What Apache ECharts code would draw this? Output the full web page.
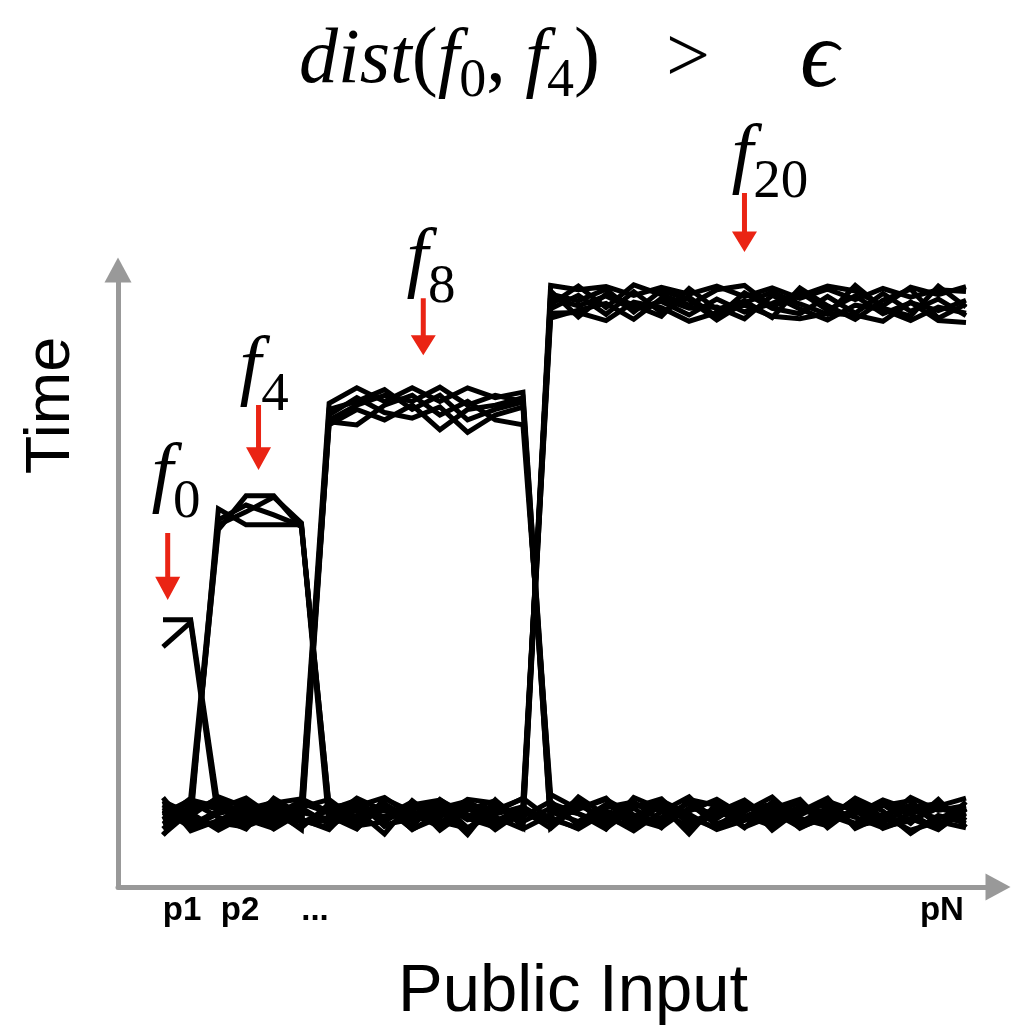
<!DOCTYPE html>
<html><head><meta charset="utf-8">
<script src="https://cdn.jsdelivr.net/npm/echarts@6/dist/echarts.min.js"></script>
<style>html,body{margin:0;padding:0;background:#fff}#c{width:1012px;height:1029px}</style>
</head><body><div id="c"></div>
<script>
// public inputs p1..pN (N = 30)
const inputs = [1,2,3,4,5,6,7,8,9,10,11,12,13,14,15,16,17,18,19,20,21,22,23,24,25,26,27,28,29,30];
const tickLabels = ['p1','p2','...','pN'];

// timing traces, grouped by the function that is elevated
const f0Lines = [
  [43.3,43.3,12.8,11.2,13.9,10.4,12.5,14.1,9.8,11.7,13.6,10.9,12.2,14.4,11.0,9.6,12.9,13.8,10.7,12.3,14.2,11.5,9.9,13.1,12.0,10.3,13.7,11.8,9.4,12.6],
  [38.9,42.9,10.6,13.4,9.7,12.8,10.2,11.6,13.5,9.3,11.9,14.0,10.1,12.4,9.5,13.3,11.1,9.8,13.6,10.5,11.4,13.0,12.2,9.7,11.3,14.3,10.4,12.9,13.5,10.8]
];
const f4Lines = [
  [12.1,10.5,61.3,58.7,58.7,58.7,9.9,12.7,11.4,13.8,9.2,12.5,14.0,10.6,12.8,11.9,10.2,13.5,12.4,9.6,12.1,14.1,10.9,11.6,13.9,12.3,9.8,10.7,12.8,11.5],
  [9.4,13.2,57.9,63.4,63.4,58.3,13.1,10.3,12.6,9.9,14.2,11.1,9.7,13.0,10.4,12.7,14.4,9.9,11.3,13.6,10.0,12.6,13.4,9.5,11.7,10.1,13.2,14.0,9.9,13.8],
  [13.9,11.8,58.7,60.8,63.2,59.0,11.5,9.4,14.3,12.2,10.6,9.5,12.7,11.4,13.9,10.0,12.3,11.2,14.0,11.8,9.3,10.8,12.7,14.2,9.6,13.0,11.5,9.2,10.6,9.6],
  [11.0,14.4,59.5,61.9,60.3,58.5,12.9,13.6,10.1,11.0,12.8,13.9,11.3,9.4,11.7,14.1,9.5,12.8,9.6,14.2,13.2,9.7,11.5,12.9,10.5,11.8,14.1,12.5,11.1,12.9]
];
const f8Lines = [
  [10.2,12.9,13.1,9.8,11.6,14.0,78.4,80.9,78.7,80.9,78.7,80.9,79.3,80.2,12.2,10.6,13.4,11.0,9.7,12.8,11.9,13.7,10.4,12.2,14.4,9.5,11.6,13.3,10.2,11.9],
  [14.5,9.1,10.8,12.6,13.7,10.5,75.7,78.1,79.7,78.7,81.0,78.1,79.7,78.7,9.6,13.8,10.5,12.9,14.3,10.1,12.7,9.6,13.8,11.1,9.9,12.7,13.4,10.3,14.2,9.7],
  [12.7,11.4,9.6,14.1,10.2,12.3,74.9,77.4,75.7,78.1,74.1,77.4,78.1,79.3,13.6,11.9,9.4,14.5,12.6,11.3,9.5,12.2,14.6,10.5,12.8,11.3,9.6,12.0,13.1,14.4],
  [8.5,12.3,14.3,11.0,9.5,13.3,76.5,79.3,76.9,76.0,77.8,73.7,76.5,77.8,11.3,9.4,12.1,10.4,13.2,8.6,13.6,10.9,12.0,13.7,10.9,14.4,12.3,8.7,11.6,10.3],
  [13.3,10.0,12.4,13.2,12.5,9.3,75.4,74.9,78.1,79.7,76.5,78.7,75.7,74.9,15.0,12.6,14.2,11.7,10.4,13.9,11.1,14.0,9.2,12.6,13.3,9.9,10.8,14.5,12.4,13.2],
  [11.5,13.8,11.3,9.4,14.4,11.6,77.4,78.7,80.6,77.4,79.7,75.7,77.4,78.6,9.9,14.6,11.6,9.1,12.2,14.6,10.3,11.4,13.2,9.8,12.1,13.6,9.5,11.1,9.3,12.7]
];
const f20Lines = [
  [12.4,9.7,11.9,13.0,10.7,13.6,12.0,9.5,13.5,10.9,12.1,13.1,10.0,11.5,97.5,96.8,97.3,95.9,97.2,96.1,97.4,95.7,97.1,95.4,96.9,95.2,97.0,95.6,96.8,96.5],
  [10.8,12.6,13.6,10.1,12.9,11.0,9.3,13.9,11.0,12.6,13.7,9.6,11.8,13.0,95.5,94.2,95.8,93.6,94.9,92.7,95.3,93.2,94.6,96.4,93.5,95.8,92.9,94.7,93.4,95.1],
  [14.0,11.1,9.9,12.3,9.8,12.9,14.2,10.8,12.9,9.4,11.3,14.2,13.6,10.1,93.7,95.9,92.8,96.5,93.1,95.6,92.4,96.3,93.8,92.9,95.7,93.0,96.2,93.3,95.3,92.6],
  [8.4,13.5,12.7,14.4,11.3,10.6,10.8,12.4,8.6,14.0,10.5,12.9,9.3,12.4,92.2,93.5,94.6,92.0,95.4,93.8,94.0,92.1,95.9,93.7,91.9,94.3,93.6,91.8,94.0,93.0],
  [12.9,10.2,10.4,9.7,13.6,14.3,12.2,11.1,13.4,10.7,12.9,8.5,14.1,9.7,96.6,92.4,96.1,94.3,92.5,97.0,93.6,95.0,92.3,97.1,94.2,92.0,95.1,96.9,92.2,94.5],
  [11.9,14.1,13.0,10.9,12.0,9.6,13.5,9.9,10.6,13.3,14.1,11.7,10.7,12.8,94.4,97.4,93.9,97.6,96.0,94.3,96.8,97.5,94.1,95.8,97.4,96.6,94.2,97.2,96.0,97.3],
  [10.3,11.5,14.6,12.9,9.4,12.1,11.0,14.4,12.3,11.8,9.8,13.4,12.5,14.3,93.0,93.1,91.8,94.8,93.9,91.7,93.1,94.3,92.5,92.1,93.0,92.7,91.7,94.8,91.8,91.5],
  [13.6,12.0,9.2,11.6,14.0,10.8,9.6,13.1,14.5,11.5,12.4,9.2,13.2,11.2,96.1,95.0,96.9,93.2,96.7,95.2,91.9,94.7,96.4,94.5,92.8,97.5,93.8,92.5,97.4,94.0]
];

// annotations: function index, input position, arrow tip (time), label anchor
const annoNames  = ['0','4','8','20'];
const annoX      = [1.17, 4.45, 10.40, 22.00];
const annoTipY   = [46.5, 67.6, 86.2, 102.9];
const annoLabelX = [1.47, 4.65, 10.68, 22.92];
const annoLabelY = [66.5, 83.8, 101.3, 118.3];
const annoLen    = [67, 65, 57, 59];

// tick label positions along the input axis
const tickPos = [1.686, 3.781, 6.49, 29.13];

const SERIF = '"Liberation Serif","DejaVu Serif",serif';
const SANS = '"Liberation Sans",Arial,sans-serif';

const series = [];
[['f0', f0Lines], ['f4', f4Lines], ['f8', f8Lines], ['f20', f20Lines]].forEach(([g, lines]) => {
  lines.forEach((vals, k) => {
    series.push({
      name: g + '-' + (k + 1), type: 'line', symbol: 'none', silent: true,
      data: inputs.map((x, i) => [x, vals[i]]),
      lineStyle: { color: '#000', width: 5, join: 'miter', miterLimit: 10 },
      z: 2
    });
  });
});

const arrowPath = 'path://M10,0 L15,0 L15,43 L25,43 L12.5,66 L0,43 L10,43 Z';
series.push({
  name: 'arrows', type: 'scatter', clip: false, silent: true, z: 5,
  data: annoNames.map((n, i) => ({ value: [annoX[i], annoTipY[i]], symbolSize: [25, annoLen[i]] })),
  symbol: arrowPath, symbolOffset: [0, '-50%'],
  itemStyle: { color: '#EA2414', opacity: 1 }
});
series.push({
  name: 'labels', type: 'scatter', clip: false, silent: true, z: 5,
  symbolSize: 0,
  data: annoNames.map((n, i) => ({ value: [annoLabelX[i], annoLabelY[i]], name: n })),
  label: {
    show: true, position: 'inside', color: '#000', textBorderWidth: 0, opacity: 1,
    formatter: p => '{f|f}{s|' + p.name + '}',
    rich: {
      f: { fontFamily: SERIF, fontStyle: 'italic', fontSize: 78, color: '#000', lineHeight: 106, textBorderWidth: 0 },
      s: { fontFamily: SERIF, fontSize: 55, color: '#000', verticalAlign: 'bottom', lineHeight: 55, textBorderWidth: 0 }
    }
  }
});

const option = {
  animation: false,
  backgroundColor: '#fff',
  title: {
    left: 294, top: 8,
    text: '{i|dist}{r|(}{i|f}{s|0}{r|, }{i|f}{s|4}{r|)}{g|>}{e|ϵ}',
    textStyle: {
      fontWeight: 'normal',
      rich: {
        i: { fontFamily: SERIF, fontStyle: 'italic', fontWeight: 'normal', fontSize: 78, color: '#000', lineHeight: 96 },
        r: { fontFamily: SERIF, fontWeight: 'normal', fontSize: 78, color: '#000', lineHeight: 96 },
        g: { fontFamily: SERIF, fontWeight: 'normal', fontSize: 78, color: '#000', lineHeight: 96, padding: [0, 90, 0, 66] },
        s: { fontFamily: SERIF, fontWeight: 'normal', fontSize: 54, color: '#000', verticalAlign: 'bottom', lineHeight: 54 },
        e: { fontFamily: SERIF, fontStyle: 'italic', fontWeight: 'normal', fontSize: 96, color: '#000', lineHeight: 96 }
      }
    }
  },
  grid: { left: 118, right: 14, top: 270, bottom: 142, containLabel: false, outerBoundsMode: 'none' },
  xAxis: {
    type: 'value', min: -0.625, max: 31.156,
    splitLine: { show: false }, axisTick: { show: false },
    axisLine: { onZero: false, lineStyle: { color: '#999', width: 5 }, symbol: ['none', 'triangle'], symbolSize: [27, 25] },
    axisLabel: {
      show: true,
      customValues: tickPos,
      formatter: v => { const k = tickPos.indexOf(v); return k >= 0 ? tickLabels[k] : ''; },
      fontFamily: SANS, fontWeight: 'bold', fontSize: 33, color: '#000', margin: 7
    },
    name: 'Public Input', nameLocation: 'middle', nameGap: 72,
    nameTextStyle: { fontFamily: SANS, fontSize: 67, color: '#000', padding: [0, 0, 0, 30] }
  },
  yAxis: {
    type: 'value', min: 0, max: 100,
    splitLine: { show: false }, axisTick: { show: false }, axisLabel: { show: false },
    axisLine: { onZero: false, lineStyle: { color: '#999', width: 5 }, symbol: ['none', 'triangle'], symbolSize: [27, 25] },
    name: 'Time', nameLocation: 'middle', nameGap: 35, nameRotate: 90,
    nameTextStyle: { fontFamily: SANS, fontSize: 63, color: '#000', padding: [0, 0, 0, 346] }
  },
  series: series
};

const chart = echarts.init(document.getElementById('c'), null, { renderer: 'canvas' });
chart.setOption(option);
</script>
</body></html>
